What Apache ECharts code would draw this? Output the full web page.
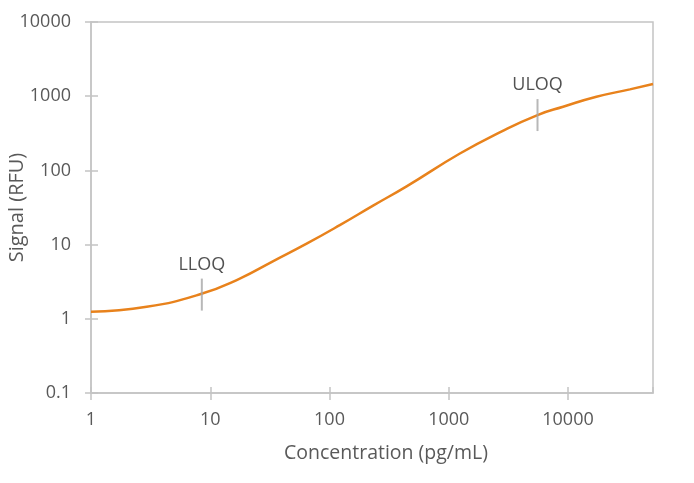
<!DOCTYPE html>
<html>
<head>
<meta charset="utf-8">
<script src="https://cdn.jsdelivr.net/npm/echarts@6/dist/echarts.min.js"></script>
<style>
html,body{margin:0;padding:0;background:#fff;}
#chart{width:694px;height:483px;}
</style>
</head>
<body>
<div id="chart"></div>
<script>
// Data
var concentration = [1, 2.93, 8.2, 17.7, 33.8, 64.3, 122, 232, 443, 1240, 2730, 5550, 9100, 17300, 33000, 51600];
var signal        = [1.24, 1.45, 2.14, 3.49, 6.0, 10.3, 18.3, 33.5, 61, 169, 331, 557, 721, 982, 1236, 1459];
var markerNames = ['LLOQ', 'ULOQ'];
var markerConc  = [8.5, 5550];
var markerSignal = [2.12, 557];
var xTickLabels = ['1', '10', '100', '1000', '10000'];
var yTickLabels = ['0.1', '1', '10', '100', '1000', '10000'];

var curve = concentration.map(function (c, i) { return [c, signal[i]]; });
var markers = markerNames.map(function (n, i) { return { name: n, value: [markerConc[i], markerSignal[i]] }; });

function isLabel(list, v) {
  for (var i = 0; i < list.length; i++) {
    if (Math.abs(parseFloat(list[i]) - v) / parseFloat(list[i]) < 1e-6) return list[i];
  }
  return '';
}

var axisGray = '#c4c4c4';
var labelStyle = { color: '#595959', fontFamily: 'Open Sans', fontSize: 18 };

var chart = echarts.init(document.getElementById('chart'));
chart.setOption({
  animation: false,
  backgroundColor: '#fff',
  grid: { left: 91, right: 41, top: 22, bottom: 90, show: true, borderColor: axisGray, borderWidth: 1.5,
          containLabel: false, outerBoundsMode: 'none' },
  xAxis: [{
    type: 'log', logBase: 10, min: 1, max: 51600,
    name: 'Concentration (pg/mL)', nameLocation: 'middle', nameGap: 50, nameMoveOverlap: false,
    nameTextStyle: { color: '#595959', fontFamily: 'Open Sans', fontSize: 19.5, padding: [0, 0, 0, 28] },
    axisLine: { show: true, lineStyle: { color: axisGray, width: 1.5 } },
    axisTick: { show: true, length: 7, lineStyle: { color: axisGray, width: 1.5 } },
    axisLabel: Object.assign({ margin: 18, showMaxLabel: false, formatter: function (v) { return isLabel(xTickLabels, v); } }, labelStyle),
    splitLine: { show: false }, minorTick: { show: false }
  }, {
    type: 'log', logBase: 10, min: 1, max: 51600, position: 'bottom',
    axisLine: { show: false },
    axisTick: { show: true, inside: true, length: 6, lineStyle: { color: axisGray, width: 1.5 } },
    axisLabel: { show: false }, splitLine: { show: false }
  }],
  yAxis: [{
    type: 'log', logBase: 10, min: 0.1, max: 10000,
    name: 'Signal (RFU)', nameLocation: 'middle', nameGap: 64, nameRotate: 90, nameMoveOverlap: false,
    nameTextStyle: { color: '#595959', fontFamily: 'Open Sans', fontSize: 20 },
    axisLine: { show: true, lineStyle: { color: axisGray, width: 1.5 } },
    axisTick: { show: true, length: 6, lineStyle: { color: axisGray, width: 1.5 } },
    axisLabel: Object.assign({ margin: 20, formatter: function (v) { return isLabel(yTickLabels, v); } }, labelStyle),
    splitLine: { show: false }
  }, {
    type: 'log', logBase: 10, min: 0.1, max: 10000, position: 'left',
    axisLine: { show: false },
    axisTick: { show: true, inside: true, length: 7, lineStyle: { color: axisGray, width: 1.5 } },
    axisLabel: { show: false }, splitLine: { show: false }
  }],
  series: [{
    type: 'line', data: curve, smooth: 0.5, showSymbol: false,
    lineStyle: { color: '#e8821c', width: 2.5 }, z: 3
  }, {
    type: 'scatter', data: markers, symbol: 'rect', symbolSize: [2, 32],
    itemStyle: { color: '#a6a6a6' }, z: 4,
    label: { show: true, position: 'top', distance: 5, formatter: '{b}', color: '#262626', fontFamily: 'Open Sans', fontSize: 18 }
  }]
});
</script>
</body>
</html>
